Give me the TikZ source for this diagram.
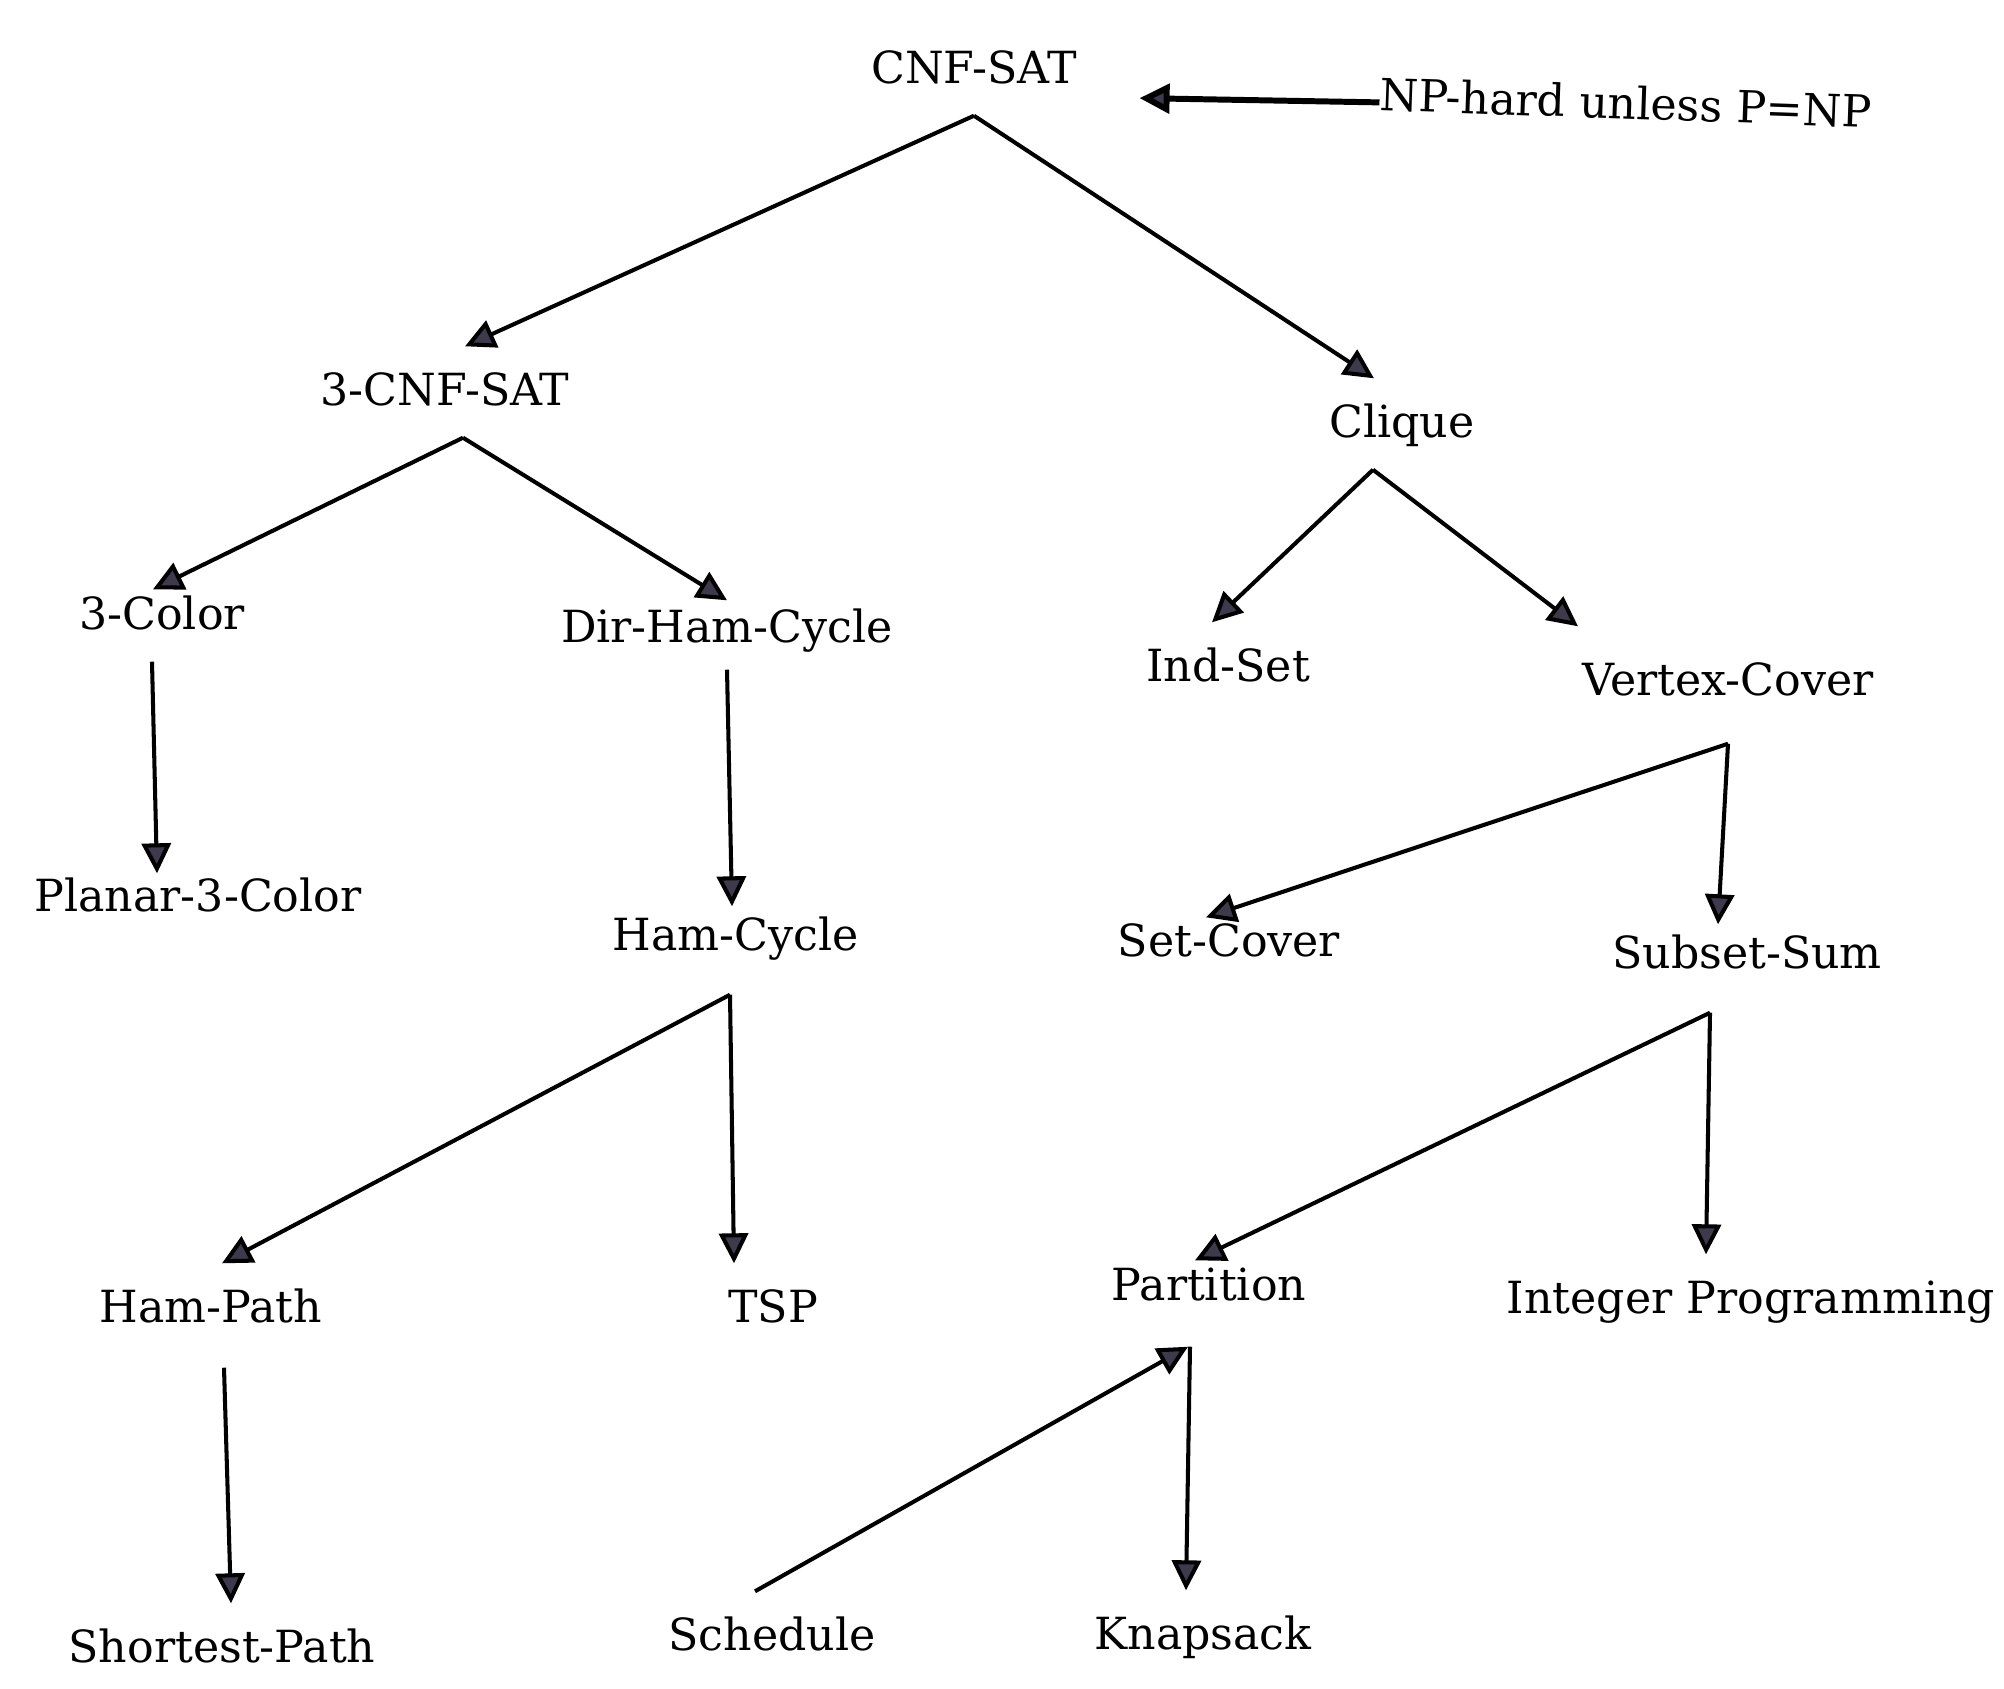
\documentclass[tikz,border=0pt]{standalone}
\usepackage{fontspec}
\setmainfont{DejaVu Serif}
\usetikzlibrary{arrows.meta}
\definecolor{tipfill}{HTML}{3E3A4C}

\begin{document}
\begin{tikzpicture}[
  prob/.style={font=\fontsize{12.6}{15}\selectfont, inner xsep=0pt, inner ysep=0.22cm,
               text height=0.36cm, text depth=0.1cm},
  arr/.style={-{Triangle[length=0.3cm,width=0.29cm,fill=tipfill]}, line width=1.15pt}
]
\useasboundingbox (0,0) rectangle (20.04,-16.88);

\node[prob] (cnf)  at (9.74,-0.70)  {CNF-SAT};
\node[prob,rotate=-2] (nph) at (16.26,-1.06) {NP-hard unless P=NP};
\node[prob] (tcnf) at (4.45,-3.92)  {3-CNF-SAT};
\node[prob] (clq)  at (14.02,-4.24) {Clique};
\node[prob] (col)  at (1.62,-6.16)  {3-Color};
\node[prob] (dhc)  at (7.27,-6.29)  {Dir-Ham-Cycle};
\node[prob] (ind)  at (12.28,-6.68) {Ind-Set};
\node[prob] (vc)   at (17.28,-6.82) {Vertex-Cover};
\node[prob] (p3c)  at (1.98,-8.98)  {Planar-3-Color};
\node[prob] (hc)   at (7.36,-9.37)  {Ham-Cycle};
\node[prob] (sc)   at (12.29,-9.43) {Set-Cover};
\node[prob] (ss)   at (17.47,-9.55) {Subset-Sum};
\node[prob] (hp)   at (2.11,-13.09) {Ham-Path};
\node[prob] (tsp)  at (7.73,-13.09) {TSP};
\node[prob] (part) at (12.09,-12.87) {Partition};
\node[prob] (ip)   at (17.51,-13.00) {Integer Programming};
\node[prob] (sp)   at (2.22,-16.49) {Shortest-Path};
\node[prob] (sch)  at (7.72,-16.37) {Schedule};
\node[prob] (knap) at (12.03,-16.36) {Knapsack};

% label pointing at the root
\draw[arr,line width=1.7pt,shorten >=0.62cm] ([yshift=-0.05cm]nph.west) -- ([yshift=-0.27cm]cnf.east);

\draw[arr] (cnf.south) -- ([xshift=0.2cm]tcnf.north);
\draw[arr] (cnf.south) -- ([xshift=-0.28cm]clq.north);
\draw[arr] ([xshift=0.18cm]tcnf.south) -- ([xshift=-0.09cm,yshift=-0.19cm]col.north);
\draw[arr] ([xshift=0.18cm]tcnf.south) -- ([yshift=-0.17cm]dhc.north);
\draw[arr] ([xshift=-0.29cm]clq.south) -- ([xshift=-0.16cm]ind.north);
\draw[arr] ([xshift=-0.29cm]clq.south) -- ([xshift=-1.5cm,yshift=0.1cm]vc.north);
\draw[arr] ([xshift=-0.1cm]col.south) -- ([xshift=-0.41cm,yshift=-0.21cm]p3c.north);
\draw[arr] ([yshift=0.05cm]dhc.south) -- ([xshift=-0.04cm,yshift=-0.15cm]hc.north);
\draw[arr] ([yshift=-0.16cm]vc.south) -- ([xshift=-0.23cm,yshift=-0.2cm]sc.north);
\draw[arr] ([yshift=-0.16cm]vc.south) -- ([xshift=-0.29cm,yshift=-0.15cm]ss.north);
\draw[arr] ([xshift=-0.06cm,yshift=-0.12cm]hc.south) -- ([xshift=0.11cm]hp.north);
\draw[arr] ([xshift=-0.06cm,yshift=-0.12cm]hc.south) -- ([xshift=-0.39cm]tsp.north);
\draw[arr] ([xshift=-0.37cm,yshift=-0.12cm]ss.south) -- ([xshift=-0.14cm,yshift=-0.19cm]part.north);
\draw[arr] ([xshift=-0.37cm,yshift=-0.12cm]ss.south) -- ([xshift=-0.45cm]ip.north);
\draw[arr] ([xshift=0.13cm,yshift=-0.13cm]hp.south) -- ([xshift=0.09cm]sp.north);
\draw[arr] ([xshift=-0.17cm]sch.north) -- ([xshift=-0.21cm,yshift=-0.14cm]part.south);
\draw[arr] ([xshift=-0.19cm,yshift=-0.14cm]part.south) -- ([xshift=-0.17cm]knap.north);
\end{tikzpicture}
\end{document}
